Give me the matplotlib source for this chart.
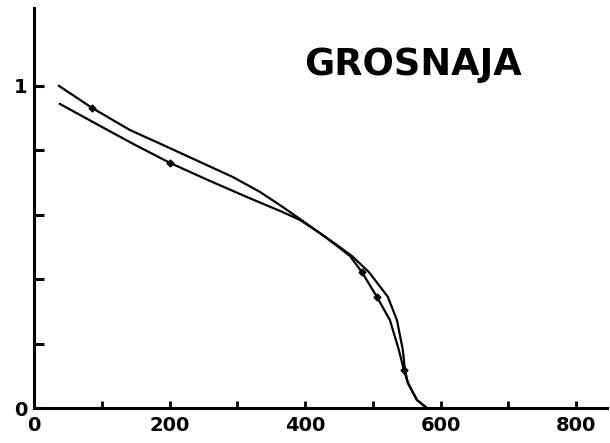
import matplotlib.pyplot as plt
from matplotlib.ticker import FixedFormatter, FixedLocator

# curve starting at 1.0 (upper at left, inner after the crossing)
curve_a_x = [37, 85.5, 141.6, 196.2, 244.8, 293.5, 333.3, 362.8, 392.3, 421.8, 445.4, 466.1,
             483.8, 505.9, 525.1, 538.3, 545.7, 551.6, 564.9, 579.6]
curve_a_y = [1.0, 0.932, 0.863, 0.811, 0.764, 0.717, 0.671, 0.630, 0.587, 0.543, 0.506, 0.472,
             0.422, 0.345, 0.273, 0.180, 0.118, 0.078, 0.025, 0.0]

# curve starting lower (outer after the crossing)
curve_b_x = [38.3, 97.3, 149.0, 200.6, 259.6, 314.2, 362.8, 392.3, 421.8, 446.9, 469.0,
             494.1, 522.1, 535.4, 544.2, 547.2, 551.6, 564.9, 579.6]
curve_b_y = [0.944, 0.876, 0.817, 0.761, 0.705, 0.655, 0.612, 0.584, 0.543, 0.506, 0.472,
             0.422, 0.345, 0.273, 0.180, 0.118, 0.078, 0.025, 0.0]

marks_a_x = [85.5, 483.8, 505.9, 545.7]
marks_a_y = [0.932, 0.422, 0.345, 0.118]
marks_b_x = [200.6]
marks_b_y = [0.761]

x_ticks = [0, 100, 200, 300, 400, 500, 600, 700, 800]
x_labels = ['0', '', '200', '', '400', '', '600', '', '800']
y_ticks = [0, 0.2, 0.4, 0.6, 0.8, 1.0]
y_labels = ['0', '', '', '', '', '1']

fig = plt.figure(figsize=(6.1, 4.43), dpi=100)
ax = fig.add_axes([0.0557, 0.079, 0.939, 0.903])

ax.plot(curve_a_x, curve_a_y, color='black', lw=1.6)
ax.plot(curve_b_x, curve_b_y, color='black', lw=1.6)
ax.plot(marks_a_x, marks_a_y, 'D', color='black', ms=3.5)
ax.plot(marks_b_x, marks_b_y, 'D', color='black', ms=3.5)

ax.set_xlim(0, 845)
ax.set_ylim(0, 1.242)

for side in ['top', 'right']:
    ax.spines[side].set_visible(False)
for side in ['left', 'bottom']:
    ax.spines[side].set_linewidth(2.2)

ax.xaxis.set_major_locator(FixedLocator(x_ticks))
ax.xaxis.set_major_formatter(FixedFormatter(x_labels))
ax.yaxis.set_major_locator(FixedLocator(y_ticks))
ax.yaxis.set_major_formatter(FixedFormatter(y_labels))
ax.tick_params(axis='x', direction='in', length=5, width=2, pad=6)
ax.tick_params(axis='y', direction='in', length=7, width=2.2, pad=5)
for lab in ax.get_xticklabels() + ax.get_yticklabels():
    lab.set_fontweight('bold')
    lab.set_fontsize(14)

ax.text(559, 1.065, 'GROSNAJA', fontsize=26.5, fontweight='bold', ha='center', va='center')

plt.savefig('out.png', dpi=100)
